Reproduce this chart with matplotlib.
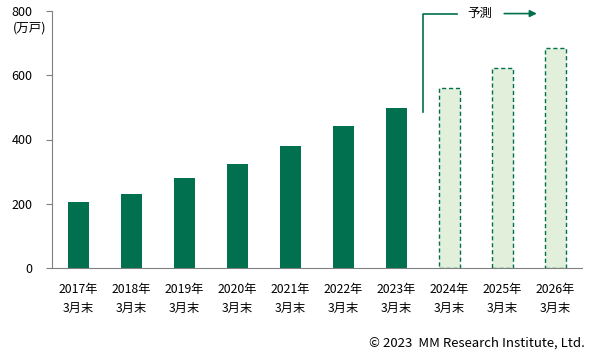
import numpy as np
import matplotlib.pyplot as plt

plt.rcParams['font.family'] = ['Noto Sans CJK JP', 'DejaVu Sans']

years = ['2017', '2018', '2019', '2020', '2021', '2022', '2023', '2024', '2025', '2026']
actual = [205, 230, 280, 324, 380, 442, 498]
forecast = [560, 622, 684]
labels = [y + '年\n3月末' for y in years]

dark = '#00704F'
light = '#E2EFDA'

fig = plt.figure(figsize=(5.95, 3.6), dpi=100)
ax = fig.add_axes([52 / 595, 92 / 360, 530 / 595, 257 / 360])

x = np.arange(len(years))
n_act = len(actual)
ax.bar(x[:n_act], actual, width=0.4, color=dark)
ax.bar(x[n_act:], forecast, width=0.4, color=light, edgecolor=dark,
       linestyle=(0, (3, 2)), linewidth=1)

ax.set_xlim(-0.5, len(years) - 0.5)
ax.set_ylim(0, 800)
ax.set_yticks([0, 200, 400, 600, 800])
ax.set_xticks(x)
ax.set_xticklabels(labels, fontsize=8.8, linespacing=1.6)
ax.tick_params(axis='x', length=0, pad=11)
ax.tick_params(axis='y', direction='out', length=4, color='#808080', labelsize=9, pad=10)

for s in ['top', 'right']:
    ax.spines[s].set_visible(False)
for s in ['left', 'bottom']:
    ax.spines[s].set_color('#808080')

# forecast bracket
ax.plot([6.5, 6.5, 7.15], [487, 792, 792], color=dark, lw=1.2, clip_on=False)
ax.text(7.57, 792, '予測', ha='center', va='center', fontsize=9)
ax.annotate('', xy=(8.7, 792), xytext=(7.98, 792),
            arrowprops=dict(arrowstyle='-|>', color=dark, lw=1.2, mutation_scale=10),
            annotation_clip=False)

fig.text(13 / 595, 1 - 28 / 360, '(万戸)', ha='left', va='center', fontsize=9)
fig.text(585 / 595, 1 - 343 / 360, '© 2023  MM Research Institute, Ltd.',
         ha='right', va='center', fontsize=9.5)

fig.savefig('out.png', dpi=100)
